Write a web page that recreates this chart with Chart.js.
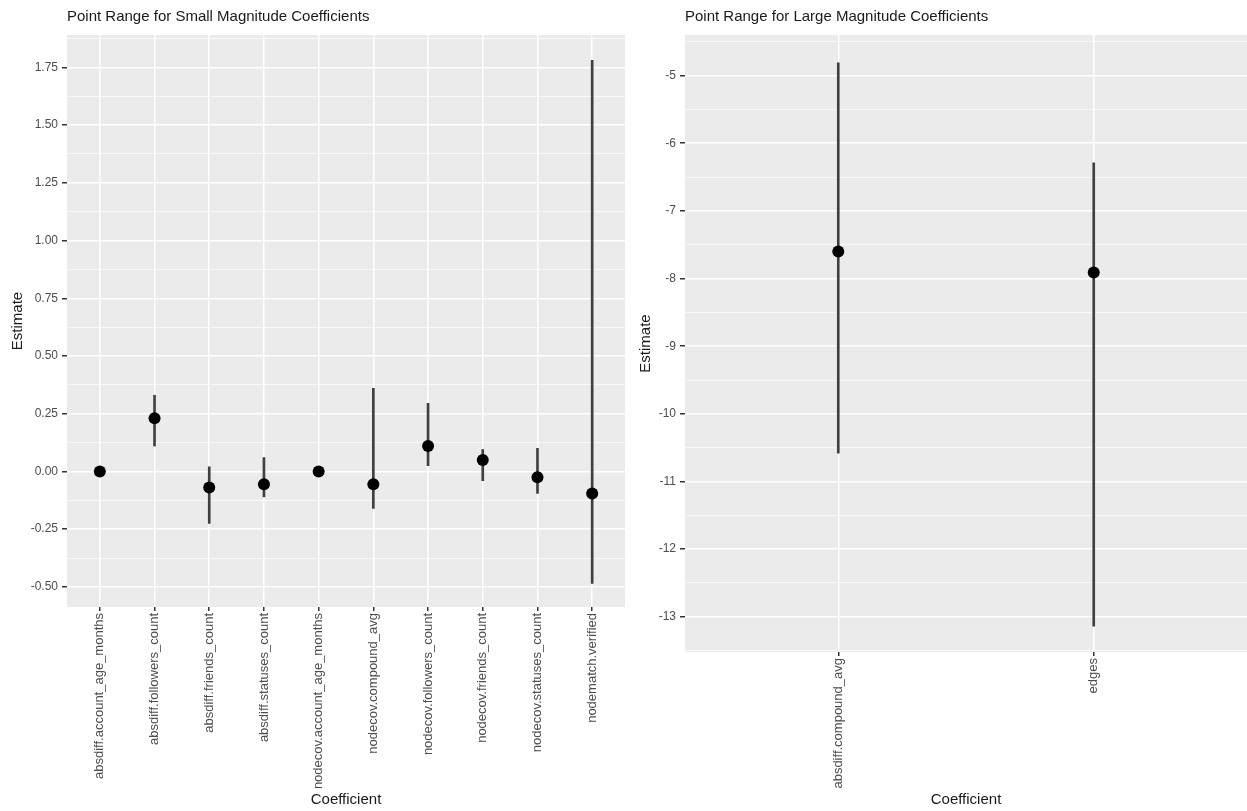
<!DOCTYPE html>
<html>
<head>
<meta charset="utf-8">
<script src="https://cdn.jsdelivr.net/npm/chart.js@4"></script>
<style>
  body { margin: 0; background: #fff; overflow: hidden; }
  .panel { position: absolute; top: 0; height: 811px; }
  #left { left: 0; width: 635px; }
  #right { left: 635px; width: 612px; }
</style>
</head>
<body>
<div class="panel" id="left"><canvas id="smallChart" width="635" height="811"></canvas></div>
<div class="panel" id="right"><canvas id="largeChart" width="612" height="811"></canvas></div>
<script>
// small magnitude coefficients
var smallCoefs = ['absdiff.account_age_months', 'absdiff.followers_count', 'absdiff.friends_count',
    'absdiff.statuses_count', 'nodecov.account_age_months', 'nodecov.compound_avg',
    'nodecov.followers_count', 'nodecov.friends_count', 'nodecov.statuses_count', 'nodematch.verified'];
var smallEst = [0.00, 0.23, -0.07, -0.055, 0.00, -0.055, 0.11, 0.05, -0.025, -0.095];
var smallLow = [-0.003, 0.11, -0.225, -0.11, -0.002, -0.16, 0.025, -0.04, -0.095, -0.485];
var smallHigh = [0.003, 0.33, 0.02, 0.06, 0.002, 0.36, 0.295, 0.095, 0.10, 1.78];

// large magnitude coefficients
var largeCoefs = ['absdiff.compound_avg', 'edges'];
var largeEst = [-7.60, -7.91];
var largeLow = [-10.58, -13.14];
var largeHigh = [-4.81, -6.29];

var FONT = '"Liberation Sans", Arial, sans-serif';

var panelBg = {
    id: 'panelBg',
    beforeDraw: function(chart) {
        var a = chart.chartArea;
        var ctx = chart.ctx;
        ctx.save();
        ctx.fillStyle = '#ebebeb';
        ctx.fillRect(a.left, a.top, a.right - a.left, a.bottom - a.top);
        ctx.restore();
    }
};

function isMajor(v, step) {
    return Math.abs(v / step - Math.round(v / step)) < 1e-6;
}

function makeChart(id, cats, est, low, high, opts) {
    var ranges = cats.map(function(c, i) { return { x: i, y: [low[i], high[i]] }; });
    var points = cats.map(function(c, i) { return { x: i, y: est[i] }; });

    return new Chart(document.getElementById(id), {
        type: 'bar',
        data: {
            datasets: [{
                type: 'line',
                data: points,
                showLine: false,
                pointRadius: opts.radius,
                pointBackgroundColor: '#000',
                pointBorderWidth: 0,
                order: 1
            }, {
                data: ranges,
                backgroundColor: '#404040',
                borderWidth: 0,
                barThickness: 2,
                order: 2
            }]
        },
        options: {
            responsive: false,
            animation: false,
            layout: { autoPadding: false, padding: { top: 0, right: opts.padRight, bottom: 0, left: 0 } },
            plugins: {
                legend: { display: false },
                tooltip: { enabled: false },
                title: {
                    display: true,
                    text: opts.title,
                    align: 'start',
                    fullSize: false,
                    color: '#1a1a1a',
                    font: { family: FONT, size: 15, weight: 'normal' },
                    padding: { top: 8, bottom: 9 }
                }
            },
            scales: {
                x: {
                    type: 'linear',
                    min: -0.6,
                    max: cats.length - 0.4,
                    offset: false,
                    afterBuildTicks: function(scale) {
                        scale.ticks = cats.map(function(c, i) { return { value: i }; });
                    },
                    afterFit: function(scale) {
                        scale.height = opts.xHeight;
                        scale.paddingLeft = 0;
                        scale.paddingRight = 0;
                    },
                    grid: { offset: false, color: '#fff', lineWidth: 1.5, tickColor: '#333', tickLength: 4 },
                    border: { display: false },
                    ticks: {
                        autoSkip: false,
                        minRotation: 90,
                        maxRotation: 90,
                        padding: 2,
                        color: '#4d4d4d',
                        font: { family: FONT, size: 13 },
                        callback: function(v) { return cats[v]; }
                    },
                    title: {
                        display: true,
                        text: 'Coefficient',
                        color: '#1a1a1a',
                        font: { family: FONT, size: 15 },
                        padding: { top: 0, bottom: 2 }
                    }
                },
                y: {
                    min: opts.yMin,
                    max: opts.yMax,
                    afterBuildTicks: function(scale) {
                        var t = [];
                        var s = opts.step / 2;
                        for (var v = Math.ceil(opts.yMin / s) * s; v <= opts.yMax + 1e-9; v += s) {
                            t.push({ value: Math.round(v * 1000) / 1000 });
                        }
                        scale.ticks = t;
                    },
                    afterFit: function(scale) { scale.width = opts.yWidth; },
                    grid: {
                        color: '#fff',
                        lineWidth: function(c) { return isMajor(c.tick.value, opts.step) ? 1.5 : 0.7; },
                        tickColor: function(c) { return isMajor(c.tick.value, opts.step) ? '#333' : 'rgba(0,0,0,0)'; },
                        tickLength: 5
                    },
                    border: { display: false },
                    ticks: {
                        autoSkip: false,
                        padding: 4,
                        color: '#4d4d4d',
                        font: { family: FONT, size: 12 },
                        callback: function(v) {
                            if (!isMajor(v, opts.step)) return '';
                            return v.toFixed(opts.decimals);
                        }
                    },
                    title: {
                        display: true,
                        text: 'Estimate',
                        color: '#1a1a1a',
                        font: { family: FONT, size: 15 },
                        padding: { top: opts.yTitlePad, bottom: 4 }
                    }
                }
            }
        },
        plugins: [panelBg]
    });
}

makeChart('smallChart', smallCoefs, smallEst, smallLow, smallHigh, {
    title: 'Point Range for Small Magnitude Coefficients',
    yMin: -0.587, yMax: 1.89, step: 0.25, decimals: 2,
    yWidth: 67, xHeight: 204, padRight: 10, radius: 6, yTitlePad: 9
});

makeChart('largeChart', largeCoefs, largeEst, largeLow, largeHigh, {
    title: 'Point Range for Large Magnitude Coefficients',
    yMin: -13.52, yMax: -4.40, step: 1, decimals: 0,
    yWidth: 50, xHeight: 159, padRight: 0, radius: 6, yTitlePad: 2
});
</script>
</body>
</html>
